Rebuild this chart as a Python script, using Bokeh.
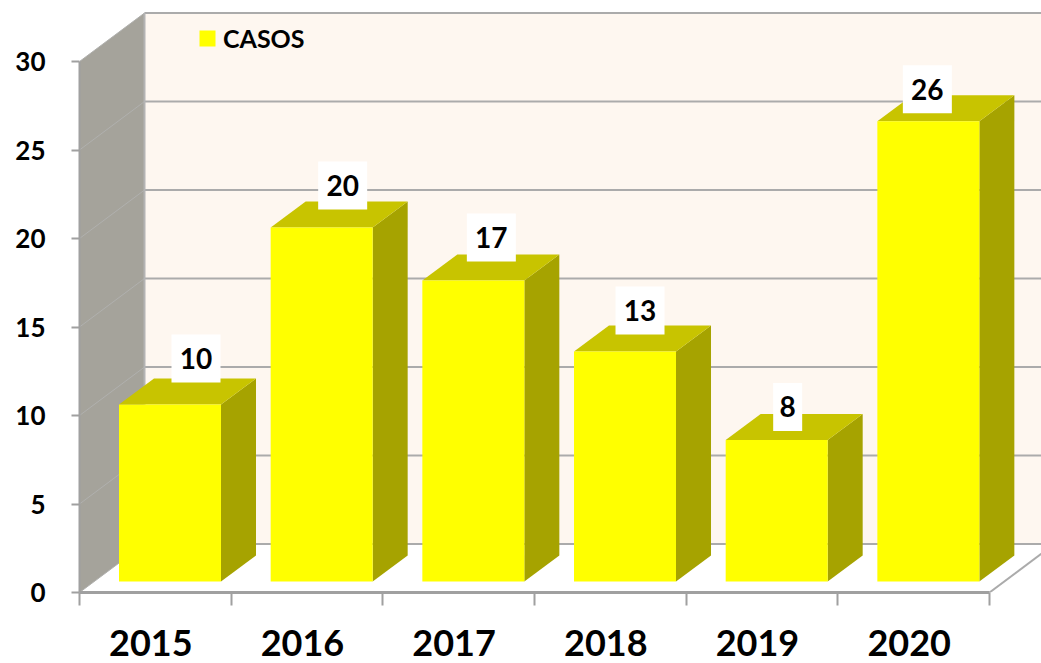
from bokeh.plotting import figure
from bokeh.models import (Range1d, LinearAxis, FixedTicker, Legend, LegendItem)
from bokeh.core.properties import value
from bokeh.embed import file_html
from bokeh.resources import INLINE

years = ["2015", "2016", "2017", "2018", "2019", "2020"]
casos = [10, 20, 17, 13, 8, 26]
y_ticks = [0, 5, 10, 15, 20, 25, 30]

# Layout: pixels per data unit and 3D depth, expressed in data units
W, H = 1041, 663
SX, SY = 151.67, 17.7
ORIGIN_X, ORIGIN_Y = 79, 592
WALL_DX, WALL_DY = 65 / SX, 48.5 / SY
BAR_DX, BAR_DY = 35 / SX, 26 / SY
BAR_LEFT, BAR_W, BAR_BASE = 39.5 / SX, 102 / SX, 11 / SY
LABEL_NUDGE_X = [26, 21, 18, 15, 11, -1]
LABEL_NUDGE_Y = [46, 42, 43, 41, 33, 32]

FRONT, TOP, SIDE = "#FFFF00", "#C8C400", "#A6A300"
WALL, BACK, GRID = "#A5A39B", "#FEF7F0", "#ABABAB"
FONT = "Lato"

x1 = (W - ORIGIN_X) / SX
y1 = ORIGIN_Y / SY

p = figure(width=W, height=H, x_range=Range1d(0, x1), y_range=Range1d(0, y1),
           x_axis_type=None, y_axis_type=None, toolbar_location=None,
           output_backend="svg", outline_line_color=None,
           min_border_left=ORIGIN_X, min_border_bottom=H - ORIGIN_Y,
           min_border_top=0, min_border_right=0,
           background_fill_color="white", border_fill_color="white")
p.grid.visible = False

n = len(casos)
top = max(y_ticks)

# Walls
p.patch([WALL_DX, x1, x1, WALL_DX], [WALL_DY, WALL_DY, top + WALL_DY, top + WALL_DY],
        fill_color=BACK, line_color=None)
p.patch([0, WALL_DX, WALL_DX, 0], [0, WALL_DY, top + WALL_DY, top],
        fill_color=WALL, line_color=None)

# Gridlines on back wall and left wall
p.multi_line([[WALL_DX, x1] for _ in y_ticks], [[t + WALL_DY, t + WALL_DY] for t in y_ticks],
             line_color=GRID, line_width=2)
p.multi_line([[0, WALL_DX] for _ in y_ticks], [[t, t + WALL_DY] for t in y_ticks],
             line_color="#B0B0AE", line_width=1)
p.line([WALL_DX, WALL_DX], [WALL_DY, top + WALL_DY], line_color="#B4B4B4", line_width=2)
p.line([n, n + WALL_DX * 1.2], [0, WALL_DY * 1.2], line_color=GRID, line_width=2)

# Bars
lefts = [i + BAR_LEFT for i in range(n)]
rights = [l + BAR_W for l in lefts]
tops = [v + BAR_BASE for v in casos]

p.patches([[r, r + BAR_DX, r + BAR_DX, r] for r in rights],
          [[BAR_BASE, BAR_BASE + BAR_DY, t + BAR_DY, t] for t in tops],
          fill_color=SIDE, line_color=None)
p.patches([[l, r, r + BAR_DX, l + BAR_DX] for l, r in zip(lefts, rights)],
          [[t, t, t + BAR_DY, t + BAR_DY] for t in tops],
          fill_color=TOP, line_color=None)
front = p.quad(left=lefts, right=rights, bottom=BAR_BASE, top=tops,
               fill_color=FRONT, line_color=None)

# Value labels on white boxes
lab_x = [(l + r) / 2 + nx / SX for l, r, nx in zip(lefts, rights, LABEL_NUDGE_X)]
lab_y = [t + ny / SY for t, ny in zip(tops, LABEL_NUDGE_Y)]
lab_txt = [str(v) for v in casos]
p.rect(lab_x, lab_y, width=[49 if v > 9 else 29 for v in casos], height=48,
       width_units="screen", height_units="screen", fill_color="white", line_color=None)
p.text(lab_x, lab_y, text=lab_txt, text_align="center", text_baseline="middle",
       text_font=value(FONT), text_font_style="bold", text_font_size="28px", text_color="black")

# Axes
AXIS_C = "#A0A0A0"
yax = LinearAxis(ticker=FixedTicker(ticks=y_ticks), bounds=(0, top))
yax.axis_line_color = AXIS_C
yax.axis_line_width = 2
yax.major_tick_line_color = AXIS_C
yax.major_tick_line_width = 2
yax.major_tick_out = 8
yax.major_tick_in = 0
yax.minor_tick_line_color = None
yax.major_label_standoff = 26
yax.major_label_text_font = FONT
yax.major_label_text_font_style = "bold"
yax.major_label_text_font_size = "26px"
yax.major_label_text_color = "black"
p.add_layout(yax, "left")

lab_ticks = [i + 0.47 for i in range(n)]
xax = LinearAxis(ticker=FixedTicker(ticks=lab_ticks, minor_ticks=list(range(n + 1))),
                 bounds=(0, n),
                 major_label_overrides={t: y for t, y in zip(lab_ticks, years)})
xax.axis_line_color = AXIS_C
xax.axis_line_width = 3
xax.major_tick_line_color = None
xax.major_tick_in = 0
xax.major_tick_out = 0
xax.minor_tick_line_color = AXIS_C
xax.minor_tick_line_width = 2
xax.minor_tick_out = 13
xax.minor_tick_in = 0
xax.major_label_standoff = 24
xax.major_label_text_font = FONT
xax.major_label_text_font_style = "bold"
xax.major_label_text_font_size = "36px"
xax.major_label_text_color = "black"
p.add_layout(xax, "below")

# Legend
legend = Legend(items=[LegendItem(label="CASOS", renderers=[front])],
                location=(118, ORIGIN_Y - 53), background_fill_alpha=0, border_line_color=None,
                glyph_width=20, glyph_height=20, label_text_font=FONT,
                label_text_font_style="bold", label_text_font_size="25px",
                label_text_color="black", margin=0, padding=4, label_standoff=6)
p.add_layout(legend)

open("out.html", "w").write(file_html(p, INLINE))
